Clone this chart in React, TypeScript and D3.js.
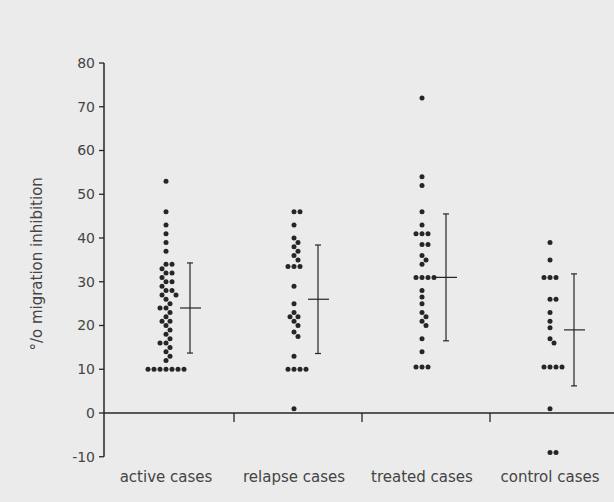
import React from "react";
import * as d3 from "d3";

const categories = ["active cases", "relapse cases", "treated cases", "control cases"];

const activeValues = [53, 46, 43, 41, 39, 37, 34, 34, 33, 32, 32, 31, 30, 30, 29, 28, 28, 27, 27, 26, 25, 24, 24, 23, 22, 21, 21, 20, 19, 18, 17, 16, 16, 15, 14, 13, 12, 10, 10, 10, 10, 10, 10, 10];
const relapseValues = [46, 46, 43, 40, 39, 38, 37, 36, 35, 33.5, 33.5, 33.5, 29, 25, 23, 22, 22, 21, 20, 18.5, 17.5, 13, 10, 10, 10, 10, 1];
const treatedValues = [72, 54, 52, 46, 43, 41, 41, 41, 38.5, 38.5, 36, 35, 34, 31, 31, 31, 31, 28, 26.5, 25, 23, 22, 21, 20, 17, 14, 10.5, 10.5, 10.5];
const controlValues = [39, 35, 31, 31, 31, 26, 26, 23, 21, 19.5, 17, 16, 10.5, 10.5, 10.5, 10.5, 1, -9, -9];

const seriesValues = [activeValues, relapseValues, treatedValues, controlValues];
const meanValues = [24, 26, 31, 19];
const sdValues = [10.3, 12.4, 14.5, 12.8];

const yTicks = [-10, 0, 10, 20, 30, 40, 50, 60, 70, 80];

const W = 614;
const H = 502;

function beeswarm(values: number[], y: (v: number) => number, dist: number) {
  const placed: { x: number; y: number }[] = [];
  const sorted = [...values].sort((a, b) => b - a);
  for (const v of sorted) {
    const py = y(v);
    let off = 0;
    for (let k = 0; k < 200; k++) {
      const cand = k === 0 ? 0 : (k % 2 === 1 ? Math.ceil(k / 2) : -Math.ceil(k / 2));
      const ok = placed.every((p) => Math.hypot(p.x - cand, p.y - py) >= dist);
      if (ok) {
        off = cand;
        break;
      }
    }
    placed.push({ x: off, y: py });
  }
  return placed;
}

export default function App() {
  const y = d3.scaleLinear().domain([-10, 80]).range([456.75, 63]);
  const x = d3.scaleBand<string>().domain(categories).range([106, 618]).paddingInner(0).paddingOuter(0);
  const axisX = 104;
  const ink = "#262626";
  const text = "#444";

  return (
    <svg width={W} height={H} style={{ position: "absolute", left: 0, top: 0, background: "#ebebeb" }}>
      <rect x={0} y={0} width={W} height={H} fill="#ebebeb" />
      <line x1={axisX} x2={axisX} y1={y(80)} y2={y(-10)} stroke={ink} strokeWidth={1.5} />
      {yTicks.map((t) => (
        <g key={t}>
          <line x1={axisX - 5} x2={axisX} y1={y(t)} y2={y(t)} stroke={ink} strokeWidth={1.3} />
          <text x={95} y={y(t)} dy="0.35em" textAnchor="end" fontFamily="DejaVu Sans" fontSize={14} fill={text}>
            {t}
          </text>
        </g>
      ))}
      <text
        transform={`translate(42, ${(y(80) + y(-10)) / 2 + 4}) rotate(-90)`}
        textAnchor="middle"
        fontFamily="DejaVu Sans"
        fontSize={15}
        fill={text}
      >
        °/o migration inhibition
      </text>
      <line x1={axisX} x2={W} y1={y(0)} y2={y(0)} stroke={ink} strokeWidth={1.5} />
      {categories.slice(1).map((c) => (
        <line key={c} x1={x(c)!} x2={x(c)!} y1={y(0)} y2={y(0) + 9} stroke={ink} strokeWidth={1.3} />
      ))}
      {categories.map((c, i) => {
        const cx = x(c)! + x.bandwidth() / 2 - 4;
        const pts = beeswarm(seriesValues[i], (v) => y(v), 5.4);
        const ex = cx + 24;
        const m = meanValues[i];
        const s = sdValues[i];
        return (
          <g key={c}>
            {pts.map((p, j) => (
              <circle key={j} cx={cx + p.x} cy={p.y} r={2.5} fill={ink} />
            ))}
            <line x1={ex} x2={ex} y1={y(m + s)} y2={y(m - s)} stroke={ink} strokeWidth={1.2} />
            <line x1={ex - 3} x2={ex + 3} y1={y(m + s)} y2={y(m + s)} stroke={ink} strokeWidth={1.2} />
            <line x1={ex - 3} x2={ex + 3} y1={y(m - s)} y2={y(m - s)} stroke={ink} strokeWidth={1.2} />
            <line x1={ex - 10} x2={ex + 11} y1={y(m)} y2={y(m)} stroke={ink} strokeWidth={1.2} />
            <text x={cx} y={482} textAnchor="middle" fontFamily="DejaVu Sans" fontSize={15} fill={text}>
              {c}
            </text>
          </g>
        );
      })}
    </svg>
  );
}
